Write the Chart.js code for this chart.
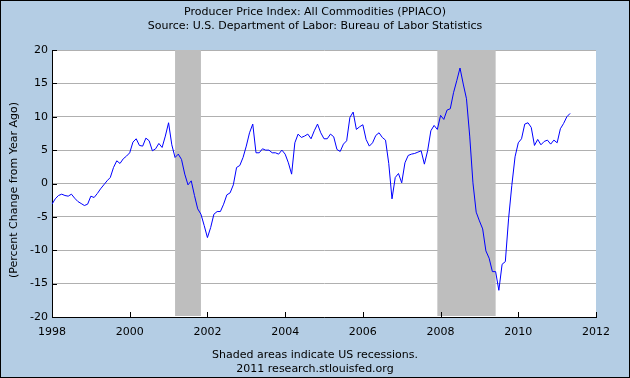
<!DOCTYPE html>
<html>
<head>
<meta charset="utf-8">
<script src="https://cdn.jsdelivr.net/npm/chart.js@4.4.0/dist/chart.umd.min.js"></script>
<style>
  html, body { margin: 0; padding: 0; background: #b4cde4; }
  canvas { display: block; }
</style>
</head>
<body>
<canvas id="ppi" width="630" height="378"></canvas>
<script>
// PPIACO, percent change from year ago, monthly from Jan 1998
const startYear = 1998;
const ppiChange = [
  -3.1, -2.3, -1.8, -1.6, -1.8, -1.9, -1.6, -2.2, -2.7, -3.0, -3.3, -3.1,   // 1998
  -1.9, -2.1, -1.5, -0.8, -0.2, 0.4, 0.9, 2.4, 3.4, 3.0, 3.7, 4.1,         // 1999
  4.6, 6.2, 6.7, 5.7, 5.6, 6.8, 6.4, 4.9, 5.2, 6.0, 5.4, 7.1,              // 2000
  9.1, 5.8, 3.9, 4.4, 3.6, 1.4, -0.2, 0.4, -1.8, -3.8, -4.6, -6.3,         // 2001
  -8.1, -6.6, -4.6, -4.2, -4.2, -3.1, -1.7, -1.4, -0.2, 2.4, 2.7, 3.9,     // 2002
  5.6, 7.6, 8.9, 4.6, 4.6, 5.2, 5.0, 5.0, 4.6, 4.6, 4.4, 5.0,              // 2003
  4.4, 3.1, 1.4, 6.1, 7.4, 6.9, 7.1, 7.4, 6.7, 7.9, 8.9, 7.6,              // 2004
  6.7, 6.7, 7.4, 7.0, 5.1, 4.8, 5.9, 6.4, 9.9, 10.7, 8.1, 8.5,             // 2005
  8.8, 6.6, 5.6, 6.1, 7.2, 7.6, 6.9, 6.5, 3.0, -2.3, 0.9, 1.5,             // 2006
  0.1, 3.1, 4.2, 4.4, 4.5, 4.7, 4.9, 2.9, 4.9, 7.9, 8.7, 8.1,              // 2007
  10.2, 9.6, 11.0, 11.2, 13.6, 15.4, 17.3, 14.9, 12.7, 7.1, 0.1, -4.3,     // 2008
  -5.6, -6.8, -10.1, -11.2, -13.2, -13.2, -16.0, -12.1, -11.7, -5.3, -0.3, 4.0, // 2009
  6.1, 6.7, 8.9, 9.1, 8.4, 5.7, 6.6, 5.8, 6.3, 6.5, 5.9, 6.5,              // 2010
  6.1, 8.2, 9.0, 10.0, 10.5                                               // 2011
];

// NBER recessions (decimal years)
const recessionStart = [2001.167, 2007.917];
const recessionEnd = [2001.833, 2009.417];

const titleLines = [
  'Producer Price Index: All Commodities (PPIACO)',
  'Source: U.S. Department of Labor: Bureau of Labor Statistics'
];
const footerLines = [
  'Shaded areas indicate US recessions.',
  '2011 research.stlouisfed.org'
];
const yTitle = '(Percent Change from Year Ago)';

const FONT = '"DejaVu Sans", Verdana, sans-serif';

const fredFrame = {
  id: 'fredFrame',
  beforeDraw(chart) {
    const ctx = chart.ctx, a = chart.chartArea;
    ctx.save();
    ctx.fillStyle = '#b4cde4';
    ctx.fillRect(0, 0, chart.width, chart.height);
    ctx.fillStyle = '#ffffff';
    ctx.fillRect(a.left, a.top, a.right - a.left, a.bottom - a.top);
    ctx.restore();
  },
  beforeDatasetsDraw(chart) {
    const ctx = chart.ctx, a = chart.chartArea, x = chart.scales.x;
    ctx.save();
    ctx.fillStyle = '#bebebe';
    for (let i = 0; i < recessionStart.length; i++) {
      const x0 = x.getPixelForValue(recessionStart[i]);
      const x1 = x.getPixelForValue(recessionEnd[i]);
      ctx.fillRect(x0, a.top, x1 - x0, a.bottom - a.top - 1);
    }
    ctx.restore();
  },
  afterDraw(chart) {
    const ctx = chart.ctx, a = chart.chartArea;
    const xs = chart.scales.x, ys = chart.scales.y;
    ctx.save();
    // inward tick marks
    ctx.strokeStyle = '#000';
    ctx.lineWidth = 1;
    ctx.beginPath();
    xs.ticks.forEach(t => {
      const px = Math.round(xs.getPixelForValue(t.value)) + 0.5;
      ctx.moveTo(px, a.bottom);
      ctx.lineTo(px, a.bottom - 5);
    });
    ys.ticks.forEach(t => {
      const py = Math.round(ys.getPixelForValue(t.value)) + 0.5;
      ctx.moveTo(a.left, py);
      ctx.lineTo(a.left + 5, py);
    });
    ctx.stroke();

    // titles and footer
    ctx.fillStyle = '#000';
    ctx.font = '11px ' + FONT;
    ctx.textAlign = 'center';
    ctx.textBaseline = 'middle';
    ctx.fillText(titleLines[0], 315, 12);
    ctx.fillText(titleLines[1], 315, 26);
    ctx.fillText(footerLines[0], 315, 355);
    ctx.fillText(footerLines[1], 315, 369);

    ctx.translate(14, 190);
    ctx.rotate(-Math.PI / 2);
    ctx.fillText(yTitle, 0, 0);
    ctx.restore();

    // outer frame
    ctx.save();
    ctx.strokeStyle = '#000';
    ctx.strokeRect(0.5, 0.5, chart.width - 1, chart.height - 1);
    ctx.restore();
  }
};

new Chart(document.getElementById('ppi'), {
  type: 'line',
  data: {
    datasets: [{
      label: 'PPIACO',
      data: ppiChange.map((v, i) => ({ x: startYear + i / 12, y: v })),
      borderColor: '#0000ff',
      borderWidth: 1,
      pointRadius: 0,
      tension: 0,
      fill: false
    }]
  },
  options: {
    responsive: false,
    animation: false,
    devicePixelRatio: 1,
    layout: { padding: { top: 50, right: 34, left: 0, bottom: 0 } },
    plugins: { legend: { display: false }, tooltip: { enabled: false } },
    scales: {
      x: {
        type: 'linear',
        min: 1998,
        max: 2012,
        afterFit: s => { s.height = 61; },
        grid: { display: false, drawTicks: false },
        border: { display: true, color: '#000', width: 1 },
        ticks: {
          stepSize: 2,
          padding: 9,
          color: '#000',
          font: { family: FONT, size: 11 },
          maxRotation: 0,
          callback: v => String(v)
        }
      },
      y: {
        min: -20,
        max: 20,
        afterFit: s => { s.width = 52; },
        grid: { color: '#b0b0b0', drawTicks: false },
        border: { display: true, color: '#000', width: 1 },
        ticks: {
          stepSize: 5,
          padding: 4,
          color: '#000',
          font: { family: FONT, size: 11 }
        }
      }
    }
  },
  plugins: [fredFrame]
});
</script>
</body>
</html>
